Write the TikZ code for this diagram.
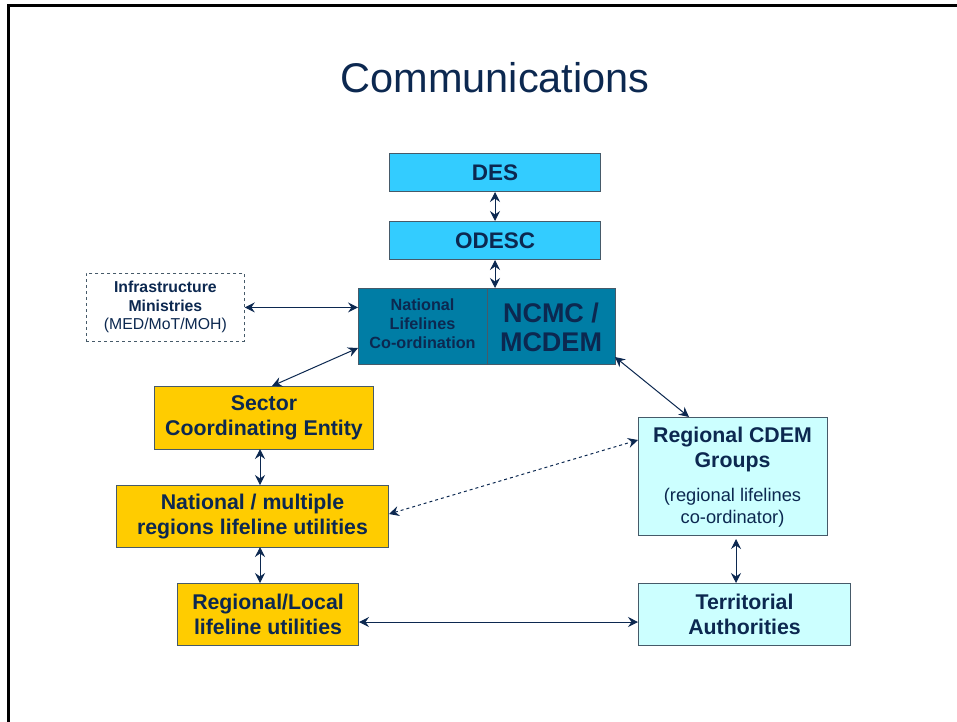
\documentclass[tikz,border=0pt]{standalone}
\usepackage{fontspec}
\setmainfont{Liberation Sans}
\usetikzlibrary{arrows.meta}
\definecolor{navy}{RGB}{12,40,80}
\definecolor{edgegray}{RGB}{70,90,105}
\definecolor{desblue}{RGB}{51,204,255}
\definecolor{ncmcblue}{RGB}{0,125,165}
\definecolor{gold}{RGB}{255,204,0}
\definecolor{palecyan}{RGB}{204,255,255}
\tikzset{
  box/.style={draw=edgegray, line width=1pt, inner sep=0pt, anchor=north west, align=center, text=navy, font=\bfseries},
  bigtext/.style={font=\fontsize{21.3}{25}\bfseries\selectfont},
  link/.style={navy, line width=1pt, {Stealth[length=10pt,width=10pt,inset=3.5pt]}-{Stealth[length=10pt,width=10pt,inset=3.5pt]}},
}
\begin{document}
\begin{tikzpicture}[x=1pt,y=-1pt]
\useasboundingbox (0,0) rectangle (957,721);
\fill[white] (0,0) rectangle (957,721);
\draw[black, line width=3pt] (8,730) -- (8,5) -- (970,5);
\node[text=navy, font=\fontsize{41.5}{46}\selectfont] (title) at (495,78) {Communications};
% boxes
\node[box, fill=desblue, minimum width=211pt, minimum height=38pt, font=\fontsize{22.5}{26}\bfseries\selectfont] (des) at (389,153) {DES};
\node[box, fill=desblue, minimum width=211pt, minimum height=38pt, font=\fontsize{22.5}{26}\bfseries\selectfont] (odesc) at (389,221) {ODESC};
\node[box, fill=ncmcblue, minimum width=257pt, minimum height=76pt] (ncmc) at (358,288) {};
\draw[edgegray, line width=1pt] (487,288) -- (487,364);
\node[text=navy, font=\fontsize{16.2}{19}\bfseries\selectfont, align=center] (nlc) at (422.5,324) {National\\Lifelines\\Co-ordination};
\node[text=navy, font=\fontsize{27}{29}\bfseries\selectfont, align=center] (mcdem) at (551,327) {NCMC /\\MCDEM};
\node[box, draw=edgegray, dashed, line width=0.8pt, minimum width=158pt, minimum height=68pt, font=\fontsize{15.8}{18.5}\selectfont] (infra) at (86,273) {\textbf{Infrastructure}\\\textbf{Ministries}\\(MED/MoT/MOH)};
\node[box, fill=gold, minimum width=219pt, minimum height=63pt, bigtext] (sector) at (154,386) {Sector\\Coordinating Entity};
\node[box, fill=gold, minimum width=272pt, minimum height=62pt, bigtext] (natm) at (116,485) {National / multiple\\regions lifeline utilities};
\node[box, fill=gold, minimum width=181pt, minimum height=62pt, bigtext] (regl) at (177,583) {Regional/Local\\lifeline utilities};
\node[box, fill=palecyan, minimum width=189pt, minimum height=118pt] (cdem) at (638,417) {};
\node[text=navy, bigtext, align=center] (cdemt) at (732.5,449) {Regional CDEM\\Groups};
\node[text=navy, font=\fontsize{18.3}{22}\selectfont, align=center] (cdems) at (732.5,508) {(regional lifelines\\co-ordinator)};
\node[box, fill=palecyan, minimum width=212pt, minimum height=62pt, bigtext] (terr) at (638,583) {Territorial\\Authorities};
% connectors
\draw[link] (des.south) -- (odesc.north);
\draw[link] (odesc.south) -- (odesc.south |- ncmc.north);
\draw[link] (infra.east) -- (ncmc.west |- infra.east);
\coordinate (sectop) at (272,386);
\coordinate (ncmcl) at (358,348);
\draw[link] (sectop) -- (ncmcl);
\coordinate (ncmcr) at (615,357);
\coordinate (cdemtop) at (689,417);
\draw[link] (ncmcr) -- (cdemtop);
\draw[link] (260,449) coordinate (a1) -- (260,485) coordinate (a2);
\draw[link] (260,547) coordinate (b1) -- (260,583) coordinate (b2);
\draw[link, dashed] (natm.east |- 0,514) -- (cdem.west |- 0,440);
\draw[link] (736,539) coordinate (c1) -- (736,583) coordinate (c2);
\draw[link] (regl.east |- 0,622) -- (terr.west |- 0,622);
\end{tikzpicture}
\end{document}
